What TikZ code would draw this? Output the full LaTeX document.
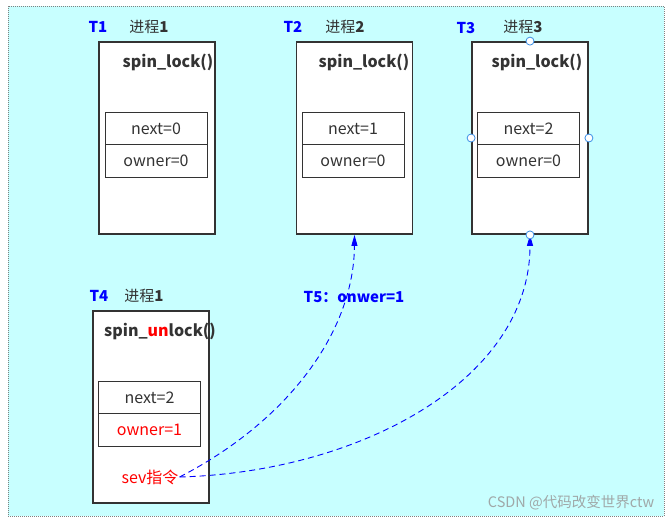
\documentclass[tikz,border=0pt]{standalone}
\usepackage{fontspec}
\setmainfont{Noto Sans CJK SC}
\usepackage{xcolor}
\usepackage{tikz}
\usetikzlibrary{arrows.meta}
\definecolor{bg}{HTML}{C8FFFF}
\definecolor{ink}{HTML}{333333}
\definecolor{tblue}{HTML}{0000FF}
\definecolor{hblue}{HTML}{3A8EE6}
\definecolor{wmark}{HTML}{A0A8A8}
\tikzset{
  frame/.style={draw=gray, fill=bg, line width=0.8pt, dash pattern=on 1pt off 1pt},
  proc/.style={draw=ink, fill=white, line width=1.8pt, minimum width=116pt, minimum height=192pt, inner sep=0pt},
  cell/.style={draw=ink, fill=white, line width=0.7pt, minimum width=102pt, minimum height=32.5pt, inner sep=0pt, text=ink, font=\fontsize{16}{18}\selectfont},
  fn/.style={text=ink, font=\fontsize{16}{18}\selectfont\bfseries},
  tlab/.style={text=tblue, font=\fontsize{15}{17}\selectfont\bfseries},
  plab/.style={text=ink, font=\fontsize{15}{17}\selectfont},
  sig/.style={draw=tblue, line width=0.9pt, dash pattern=on 6pt off 4pt, -{Triangle[length=11pt,width=6pt]}},
  handle/.style={circle, draw=hblue, fill=white, line width=0.8pt, inner sep=0pt, minimum size=8pt},
}

\begin{document}
\begin{tikzpicture}[x=1pt,y=1pt]
  \useasboundingbox (0,0) rectangle (672,-520);
  \draw[frame] (8,-6) rectangle (664,-516);

  % lock boxes
  \node[proc] (p1) at (157,-138) {};
  \node[proc] (p2) at (354.5,-138) {};
  \node[proc] (p3) at (530,-138) {};
  \node[proc] (p4) at (151,-407) {};

  \node[cell] (n1) at (156,-128.5) {next=0};
  \node[cell] (o1) at (156,-161) {owner=0};
  \node[cell] (n2) at (353,-128.5) {next=1};
  \node[cell] (o2) at (353,-161) {owner=0};
  \node[cell] (n3) at (528.5,-128.5) {next=2};
  \node[cell] (o3) at (528.5,-161) {owner=0};
  \node[cell] (n4) at (149.5,-397.5) {next=2};
  \node[cell,text=red] (o4) at (149.5,-430) {owner=1};

  \node[fn] (f1) at (168,-62) {spin\_lock()};
  \node[fn] (f2) at (364,-62) {spin\_lock()};
  \node[fn] (f3) at (537,-62) {spin\_lock()};
  \node[fn] (f4) at (160,-331) {spin\_{\color{red}un}lock()};

  \node[tlab] (t1) at (98,-27) {T1};
  \node[plab] (q1) at (149,-27) {进程\textbf{1}};
  \node[tlab] (t2) at (293,-27) {T2};
  \node[plab] (q2) at (345,-27) {进程\textbf{2}};
  \node[tlab] (t3) at (466,-28) {T3};
  \node[plab] (q3) at (523,-27) {进程\textbf{3}};
  \node[tlab] (t4) at (99,-296) {T4};
  \node[plab] (q4) at (144,-296) {进程\textbf{1}};
  \node[tlab] (t5) at (354,-297) {T5：onwer=1};

  \node[plab,text=red,font=\fontsize{16}{18}\selectfont,inner sep=1pt] (sev) at (150,-477) {sev指令};

  % wake-up signals
  \draw[sig] (sev.east) .. controls (290,-420) and (354,-330) .. (p2.south);
  \draw[sig] (sev.east) .. controls (360,-472) and (530,-380) .. (p3.south);

  \foreach \a in {north,south,west,east}
    \node[handle] at (p3.\a) {};

  \node[text=wmark, font=\fontsize{14.5}{16}\selectfont] (wm) at (571,-503) {CSDN @代码改变世界ctw};
\end{tikzpicture}
\end{document}
